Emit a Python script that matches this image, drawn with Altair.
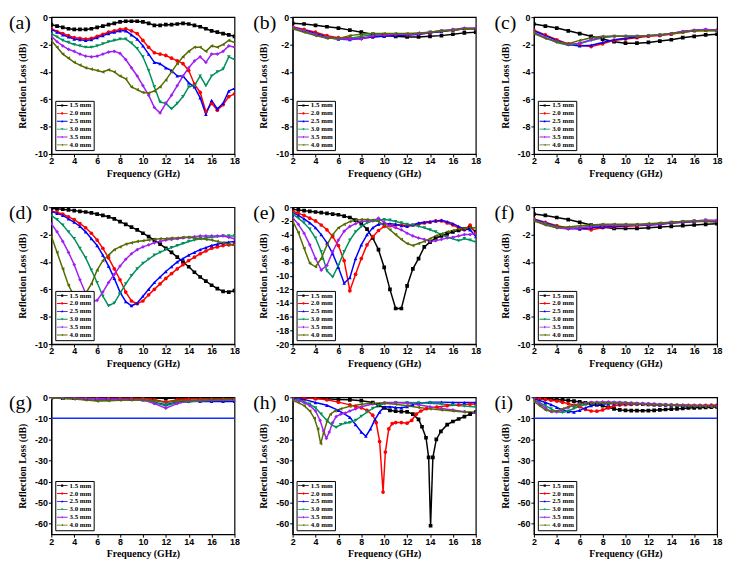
import altair as alt
import pandas as pd

SERIES = ["1.5 mm", "2.0 mm", "2.5 mm", "3.0 mm", "3.5 mm", "4.0 mm"]
COLORS = ["#000000", "#ff0000", "#0000ff", "#00915a", "#a020f0", "#556b00"]
SHAPES = ["square", "circle", "triangle-up", "triangle-down", "diamond", "triangle-left"]
BAR = "M-1,-0.08H1V0.08H-1Z "
LEGEND_SYMBOLS = [
    BAR + "M-0.2,-0.2H0.2V0.2H-0.2Z",
    BAR + "M0.21,0A0.21,0.21,0,1,1,-0.21,0A0.21,0.21,0,1,1,0.21,0Z",
    BAR + "M0,-0.24L0.22,0.16H-0.22Z",
    BAR + "M0,0.24L-0.22,-0.16H0.22Z",
    BAR + "M0,-0.24L0.2,0L0,0.24L-0.2,0Z",
    BAR + "M-0.24,0L0.16,-0.22V0.22Z",
]
XTICKS = [2, 4, 6, 8, 10, 12, 14, 16, 18]
Y10 = [0, -2, -4, -6, -8, -10]
Y20 = [0, -2, -4, -6, -8, -10, -12, -14, -16, -18, -20]
Y60 = [0, -10, -20, -30, -40, -50, -60]
REF_DB = -10

F05 = [2, 2.5, 3, 3.5, 4, 4.5, 5, 5.5, 6, 6.5, 7, 7.5, 8, 8.5, 9, 9.5, 10,
       10.5, 11, 11.5, 12, 12.5, 13, 13.5, 14, 14.5, 15, 15.5, 16, 16.5, 17, 17.5, 18]
F1 = [2, 3, 4, 5, 6, 7, 8, 9, 10, 11, 12, 13, 14, 15, 16, 17, 18]

# ---- panel (a) ----
a15 = [-0.55, -0.65, -0.75, -0.85, -0.9, -0.9, -0.9, -0.85, -0.75, -0.65, -0.55, -0.45, -0.35, -0.3, -0.3, -0.3,
       -0.35, -0.45, -0.6, -0.6, -0.55, -0.55, -0.5, -0.45, -0.5, -0.6, -0.7, -0.85, -1.0, -1.1, -1.2, -1.3, -1.4]
a20 = [-0.85, -1.05, -1.2, -1.35, -1.5, -1.55, -1.6, -1.55, -1.4, -1.25, -1.1, -1.0, -0.9, -0.85, -1.0, -1.2,
       -1.7, -2.2, -2.6, -2.7, -2.8, -3.0, -3.2, -3.4, -3.9, -4.9, -5.5, -6.9, -6.3, -6.8, -6.4, -5.8, -5.6]
a25 = [-0.9, -1.1, -1.3, -1.45, -1.6, -1.65, -1.7, -1.65, -1.5, -1.35, -1.2, -1.1, -1.0, -1.0, -1.3, -1.6,
       -2.1, -2.7, -3.3, -3.4, -3.7, -3.9, -4.3, -4.3, -4.8, -5.1, -5.9, -7.1, -6.1, -6.7, -6.3, -5.4, -5.2]
a30 = [-1.2, -1.45, -1.7, -1.85, -2.0, -2.1, -2.2, -2.2, -2.1, -1.95, -1.8, -1.7, -1.6, -1.6, -1.9, -2.3,
       -2.9, -3.9, -5.1, -6.2, -6.3, -6.7, -6.3, -5.8, -5.1, -5.0, -4.3, -5.0, -4.3, -4.0, -3.8, -2.9, -3.1]
a35 = [-1.4, -1.8, -2.1, -2.35, -2.5, -2.7, -2.85, -2.9, -2.85, -2.7, -2.55, -2.5, -2.65, -3.1, -3.7, -4.3,
       -5.0, -5.7, -6.6, -7.0, -6.3, -5.7, -5.0, -4.3, -3.7, -3.2, -2.9, -3.3, -2.7, -2.7, -2.5, -2.1, -2.2]
a40 = [-1.7, -2.2, -2.7, -3.0, -3.3, -3.5, -3.7, -3.8, -3.9, -4.0, -3.85, -4.0, -4.3, -4.5, -5.1, -5.3,
       -5.5, -5.55, -5.4, -5.1, -4.6, -4.0, -3.4, -2.9, -2.5, -2.2, -2.2, -2.5, -2.1, -2.2, -2.0, -1.7, -1.85]

# ---- panel (b) ----
b15 = [-0.45, -0.5, -0.6, -0.7, -0.8, -0.95, -1.1, -1.25, -1.35, -1.4, -1.45, -1.45, -1.4, -1.35, -1.25, -1.15, -1.1]
b20 = [-0.7, -0.9, -1.1, -1.35, -1.5, -1.5, -1.55, -1.45, -1.35, -1.3, -1.3, -1.25, -1.15, -1.05, -0.95, -0.85, -0.85]
b25 = [-0.75, -0.95, -1.2, -1.45, -1.6, -1.65, -1.55, -1.45, -1.4, -1.35, -1.3, -1.25, -1.15, -1.05, -0.95, -0.85, -0.85]
b30 = [-0.8, -1.0, -1.3, -1.5, -1.6, -1.55, -1.4, -1.3, -1.25, -1.25, -1.25, -1.2, -1.1, -1.0, -0.95, -0.85, -0.85]
b35 = [-0.75, -1.0, -1.3, -1.5, -1.6, -1.6, -1.6, -1.35, -1.3, -1.25, -1.25, -1.2, -1.1, -1.0, -0.9, -0.8, -0.8]
b40 = [-0.85, -1.1, -1.35, -1.55, -1.55, -1.35, -1.25, -1.2, -1.2, -1.2, -1.2, -1.15, -1.1, -1.0, -0.95, -0.85, -0.85]

# ---- panel (c) ----
c15 = [-0.5, -0.65, -0.8, -1.0, -1.2, -1.4, -1.6, -1.8, -1.9, -1.9, -1.85, -1.75, -1.65, -1.5, -1.4, -1.3, -1.25]
c20 = [-0.95, -1.3, -1.65, -1.95, -2.05, -2.15, -1.95, -1.7, -1.6, -1.5, -1.4, -1.35, -1.25, -1.1, -1.0, -0.95, -0.95]
c25 = [-1.0, -1.35, -1.7, -2.0, -2.1, -2.05, -1.85, -1.65, -1.55, -1.45, -1.35, -1.3, -1.2, -1.05, -0.95, -0.9, -0.95]
c30 = [-1.1, -1.5, -1.85, -2.05, -1.95, -1.7, -1.5, -1.4, -1.4, -1.4, -1.35, -1.3, -1.2, -1.1, -1.0, -0.95, -1.0]
c35 = [-1.15, -1.5, -1.8, -2.0, -1.9, -1.65, -1.45, -1.4, -1.4, -1.4, -1.35, -1.3, -1.2, -1.05, -0.95, -0.9, -0.95]
c40 = [-1.2, -1.55, -1.8, -1.95, -1.7, -1.5, -1.4, -1.4, -1.4, -1.4, -1.35, -1.3, -1.2, -1.1, -1.0, -1.0, -1.0]

# ---- panel (d) ----
d15 = [-0.1, -0.12, -0.15, -0.2, -0.25, -0.3, -0.35, -0.42, -0.5, -0.6, -0.7, -0.85, -1.05, -1.25, -1.45, -1.65,
       -1.9, -2.15, -2.4, -2.7, -3.0, -3.3, -3.65, -4.0, -4.35, -4.75, -5.1, -5.4, -5.7, -5.95, -6.15, -6.2, -6.1]
d20 = [-0.3, -0.38, -0.5, -0.7, -0.9, -1.2, -1.5, -1.9, -2.4, -3.0, -3.7, -4.5, -5.3, -6.2, -6.85, -7.05,
       -6.85, -6.4, -6.0, -5.6, -5.2, -4.85, -4.5, -4.2, -3.9, -3.65, -3.4, -3.2, -3.0, -2.9, -2.8, -2.75, -2.7]
d25 = [-0.3, -0.45, -0.6, -0.85, -1.1, -1.4, -1.8, -2.3, -2.8, -3.5, -4.3, -5.2, -6.2, -6.9, -7.2, -7.0,
       -6.5, -6.0, -5.5, -5.1, -4.7, -4.35, -4.0, -3.75, -3.5, -3.3, -3.1, -2.95, -2.8, -2.7, -2.6, -2.55, -2.5]
d30 = [-0.6, -0.9, -1.3, -1.8, -2.3, -3.0, -3.7, -4.6, -5.5, -6.5, -7.2, -7.0, -6.3, -5.6, -5.0, -4.5,
       -4.1, -3.8, -3.5, -3.3, -3.1, -2.95, -2.8, -2.65, -2.5, -2.4, -2.3, -2.25, -2.2, -2.15, -2.1, -2.1, -2.1]
d35 = [-1.2, -1.8, -2.5, -3.3, -4.2, -5.3, -6.3, -6.9, -6.8, -6.2, -5.5, -4.9, -4.3, -3.8, -3.4, -3.1,
       -2.9, -2.75, -2.6, -2.5, -2.4, -2.35, -2.3, -2.25, -2.2, -2.15, -2.1, -2.1, -2.1, -2.1, -2.1, -2.2, -2.3]
d40 = [-2.1, -3.3, -4.5, -5.7, -6.5, -6.8, -6.3, -5.6, -4.6, -3.9, -3.5, -3.1, -2.9, -2.7, -2.6, -2.5,
       -2.45, -2.4, -2.35, -2.3, -2.3, -2.25, -2.25, -2.2, -2.2, -2.25, -2.3, -2.35, -2.4, -2.5, -2.6, -2.7, -2.8]

# ---- panel (e) ----
e15 = [-0.3, -0.4, -0.5, -0.6, -0.7, -0.8, -0.9, -1.0, -1.1, -1.3, -1.5, -1.9, -2.4, -3.2, -4.5, -6.2,
       -8.8, -12.0, -14.8, -14.8, -11.5, -9.0, -7.5, -5.8, -5.1, -4.5, -4.2, -3.9, -3.6, -3.4, -3.2, -2.9, -3.6]
e20 = [-0.6, -0.9, -1.2, -1.6, -2.0, -2.6, -3.3, -4.3, -5.6, -7.8, -12.2, -9.8, -7.5, -5.5, -4.3, -3.4,
       -2.8, -2.7, -2.6, -2.6, -2.7, -2.6, -2.5, -2.3, -2.2, -2.0, -2.0, -2.3, -2.6, -3.0, -3.3, -2.6, -3.8]
e25 = [-0.8, -1.2, -1.7, -2.3, -3.0, -4.0, -5.2, -6.8, -8.8, -11.1, -10.3, -7.5, -5.5, -4.0, -3.0, -2.5,
       -2.4, -2.4, -2.5, -2.7, -2.8, -2.6, -2.3, -2.2, -2.1, -2.0, -1.9, -2.1, -2.4, -2.8, -3.2, -3.3, -4.3]
e30 = [-1.0, -1.6, -2.3, -3.2, -4.5, -6.5, -9.3, -10.2, -8.5, -6.5, -4.8, -3.6, -2.8, -2.3, -2.0, -1.9,
       -1.8, -1.9, -2.1, -2.3, -2.5, -2.6, -2.8, -3.0, -3.3, -3.6, -4.0, -4.4, -4.6, -4.9, -4.6, -4.8, -5.1]
e35 = [-1.5, -2.5, -3.8, -5.5, -7.5, -9.2, -8.5, -6.5, -4.8, -3.5, -2.8, -2.4, -2.1, -2.0, -2.0, -1.6,
       -2.2, -2.7, -3.0, -3.3, -3.8, -4.2, -4.5, -4.7, -5.0, -4.9, -4.7, -4.5, -4.4, -4.2, -4.0, -4.0, -3.8]
e40 = [-2.0, -3.7, -6.0, -8.2, -8.7, -7.5, -5.5, -4.0, -3.0, -2.5, -2.1, -1.9, -1.8, -1.8, -1.9, -2.1,
       -2.6, -3.3, -4.0, -4.7, -5.3, -5.6, -5.3, -5.0, -4.6, -4.2, -3.9, -3.6, -3.4, -3.2, -3.1, -3.0, -3.0]

# ---- panel (f) ----
f15 = [-0.5, -0.6, -0.75, -0.9, -1.1, -1.3, -1.45, -1.55, -1.55, -1.55, -1.5, -1.45, -1.4, -1.35, -1.3, -1.25, -1.2]
f20 = [-0.85, -1.1, -1.35, -1.5, -1.55, -1.65, -1.5, -1.45, -1.4, -1.35, -1.3, -1.25, -1.15, -1.1, -1.05, -1.0, -1.0]
f25 = [-0.9, -1.15, -1.4, -1.55, -1.6, -1.5, -1.45, -1.4, -1.35, -1.3, -1.3, -1.25, -1.15, -1.1, -1.05, -1.0, -1.0]
f30 = [-0.95, -1.2, -1.45, -1.55, -1.5, -1.4, -1.3, -1.3, -1.3, -1.3, -1.25, -1.2, -1.1, -1.05, -1.0, -0.95, -1.0]
f35 = [-0.95, -1.25, -1.5, -1.6, -1.5, -1.4, -1.35, -1.3, -1.3, -1.3, -1.25, -1.2, -1.1, -1.05, -1.0, -0.95, -0.95]
f40 = [-1.0, -1.3, -1.5, -1.45, -1.35, -1.3, -1.25, -1.25, -1.25, -1.25, -1.2, -1.15, -1.1, -1.05, -1.05, -1.05, -1.1]

# ---- panel (g) ----
g15 = [-0.3, -0.3, -0.3, -0.3, -0.3, -0.3, -0.3, -0.3, -0.3, -0.4, -0.6, -0.4, -0.3, -0.3, -0.3, -0.3, -0.3]
g20 = [-0.3, -0.3, -0.3, -0.4, -0.5, -0.5, -0.5, -0.5, -0.6, -1.2, -2.2, -1.2, -0.8, -0.8, -0.8, -0.8, -0.8]
g25 = [-0.4, -0.4, -0.5, -0.6, -0.8, -0.9, -0.9, -1.0, -1.2, -2.5, -3.5, -2.2, -1.8, -2.0, -2.0, -2.0, -2.0]
g30 = [-0.4, -0.6, -0.8, -1.1, -1.5, -1.5, -1.3, -1.3, -1.3, -2.5, -4.0, -2.5, -2.3, -1.8, -1.5, -1.4, -1.3]
g35 = [-0.3, -0.4, -0.5, -0.6, -0.7, -0.8, -0.9, -1.0, -1.2, -3.0, -5.2, -3.0, -1.8, -1.5, -1.3, -1.2, -1.2]
g40 = [-0.3, -0.5, -0.8, -1.3, -1.8, -1.6, -1.4, -1.3, -1.2, -1.6, -2.5, -1.8, -1.5, -1.3, -1.2, -1.1, -1.0]

# ---- panel (h) ----
h15_f = [2, 3, 4, 5, 6, 7, 8, 9, 9.5, 10, 10.5, 11, 11.5, 12, 12.5, 13, 13.3, 13.65, 13.88, 14.05, 14.25,
         14.55, 14.95, 15.5, 16, 16.5, 17, 17.5, 18]
h15 = [-0.3, -0.4, -0.5, -0.7, -1.0, -1.2, -1.6, -2.5, -3.8, -5.0, -6.2, -6.6, -6.8, -6.9, -8.0, -10.5, -14.0,
       -19.2, -28.5, -61.0, -28.5, -20.0, -16.2, -13.0, -11.5, -10.3, -9.2, -8.0, -7.0]
h20_f = [2, 3, 4, 5, 6, 7, 7.5, 8, 8.5, 9, 9.3, 9.6, 9.9, 10.1, 10.4, 10.7, 11, 11.5, 12, 12.4, 12.8, 13.2,
         13.7, 14.6, 15.5, 16.5, 17.5, 18]
h20 = [-0.3, -0.4, -0.6, -1.2, -2.3, -3.6, -4.3, -5.0, -6.2, -8.5, -12.0, -21.0, -45.0, -26.0, -15.0, -12.5,
       -12.0, -12.0, -12.3, -11.0, -8.0, -6.5, -5.4, -4.6, -4.0, -3.6, -3.3, -3.2]
h25_f = [2, 3, 4, 5, 6, 7, 7.5, 8, 8.4, 8.8, 9.2, 9.6, 10, 10.5, 11, 11.5, 12, 12.5, 13, 14, 15, 16, 17, 18]
h25 = [-0.5, -1.0, -2.5, -3.8, -6.2, -9.5, -13.0, -16.5, -18.5, -15.0, -10.5, -7.0, -4.6, -4.5, -4.8, -5.0,
       -4.5, -3.5, -2.8, -2.3, -2.3, -2.5, -2.5, -2.5]
h30_f = [2, 2.5, 3, 3.5, 4, 4.5, 5, 5.4, 5.8, 6.2, 6.6, 7, 7.5, 8, 8.5, 9, 9.5, 10, 11, 12, 13, 14, 15, 16, 17, 18]
h30 = [-0.8, -1.3, -2.0, -3.2, -5.0, -8.0, -11.0, -13.0, -14.3, -13.0, -12.3, -12.0, -11.0, -9.0, -7.0, -5.3,
       -4.0, -3.0, -2.5, -2.5, -2.6, -2.8, -3.2, -3.7, -4.2, -4.6]
h35_f = [2, 2.5, 3, 3.5, 4, 4.4, 4.7, 4.95, 5.2, 5.5, 5.8, 6.2, 6.6, 7, 7.5, 8, 9, 10, 11, 12, 13, 14, 15, 16, 17, 18]
h35 = [-1.0, -1.6, -2.5, -4.0, -6.5, -11.0, -16.0, -19.5, -16.5, -12.0, -9.2, -8.0, -7.5, -6.5, -5.5, -4.5,
       -3.2, -2.5, -2.5, -2.8, -3.5, -4.5, -5.3, -6.0, -6.8, -7.5]
h40_f = [2, 2.5, 3, 3.5, 3.9, 4.2, 4.45, 4.7, 5, 5.3, 5.7, 6.2, 7, 8, 9, 10, 11, 12, 13, 14, 15, 16, 17, 18]
h40 = [-1.5, -2.5, -4.0, -6.5, -10.0, -15.0, -22.0, -17.0, -11.5, -8.0, -6.5, -5.5, -4.3, -3.3, -2.8, -2.8,
       -3.3, -4.0, -4.8, -5.5, -6.0, -6.5, -7.0, -7.0]

# ---- panel (i) ----
i15 = [-0.3, -0.45, -0.6, -0.8, -1.0, -1.25, -1.5, -1.8, -2.2, -2.6, -3.0, -3.5, -4.0, -4.8, -5.5, -6.0,
       -6.2, -6.3, -6.3, -6.4, -6.3, -6.2, -6.0, -5.8, -5.6, -5.5, -5.3, -5.1, -5.0, -4.9, -4.8, -4.7, -4.6]
i20 = [-0.5, -0.7, -1.0, -1.4, -1.8, -2.4, -3.0, -3.7, -4.5, -5.8, -6.5, -6.6, -6.0, -5.0, -4.0, -3.7,
       -3.5, -3.4, -3.3, -3.3, -3.4, -3.5, -3.6, -3.7, -3.8, -3.8, -3.8, -3.8, -3.8, -3.8, -3.8, -3.75, -3.7]
i25 = [-0.8, -1.5, -2.5, -3.5, -4.8, -6.0, -6.8, -7.0, -6.2, -5.0, -4.0, -3.6, -3.2, -3.1, -3.0, -3.0,
       -3.0, -3.1, -3.2, -3.35, -3.5, -3.6, -3.7, -3.75, -3.8, -3.9, -4.0, -4.0, -4.0, -4.0, -4.0, -4.0, -4.0]
i30 = [-1.2, -2.5, -4.0, -5.5, -6.8, -7.2, -6.5, -5.3, -4.3, -3.5, -3.0, -2.8, -2.6, -2.6, -2.6, -2.7,
       -2.8, -2.9, -3.0, -3.15, -3.3, -3.4, -3.5, -3.6, -3.7, -3.8, -3.9, -4.0, -4.1, -4.2, -4.3, -4.4, -4.5]
i35 = [-1.5, -3.0, -5.0, -6.8, -7.0, -6.0, -4.8, -3.8, -3.0, -2.7, -2.4, -2.3, -2.2, -2.2, -2.3, -2.4,
       -2.5, -2.65, -2.8, -2.9, -3.0, -3.15, -3.3, -3.4, -3.5, -3.6, -3.7, -3.8, -3.9, -4.0, -4.1, -4.2, -4.3]
i40 = [-2.0, -4.0, -6.0, -6.8, -6.5, -5.5, -4.5, -3.8, -3.3, -3.1, -2.9, -2.85, -2.8, -2.85, -2.9, -2.95,
       -3.0, -3.1, -3.2, -3.3, -3.4, -3.5, -3.6, -3.7, -3.8, -3.9, -4.0, -4.1, -4.2, -4.25, -4.3, -4.4, -4.5]

LEG = alt.Legend(
    title=None, orient="bottom-left", offset=4, padding=1.5, rowPadding=0,
    symbolSize=121, clipHeight=6.5, symbolStrokeWidth=0, symbolOpacity=1,
    labelFont="Liberation Serif", labelFontWeight="bold", labelFontSize=7,
    labelOffset=2, labelColor="black", strokeColor="black", fillColor="white",
)


def panel(tag, fs_list, ys_list, ymin, yticks, ref=None, tagx=-40):
    rows = []
    for name, fs, ys in zip(SERIES, fs_list, ys_list):
        assert len(fs) == len(ys), (tag, name, len(fs), len(ys))
        rows += [{"f": f, "rl": v, "s": name} for f, v in zip(fs, ys)]
    df = pd.DataFrame(rows)
    x = alt.X("f:Q", scale=alt.Scale(domain=[2, 18], nice=False, zero=False),
              axis=alt.Axis(values=XTICKS, title="Frequency (GHz)", labelExpr="'' + datum.value"))
    y = alt.Y("rl:Q", scale=alt.Scale(domain=[ymin, 0], nice=False, zero=False),
              axis=alt.Axis(values=yticks, title="Reflection Loss (dB)", labelExpr="'' + datum.value"))

    def col(leg):
        return alt.Color("s:N", scale=alt.Scale(domain=SERIES, range=COLORS), legend=leg)

    base = alt.Chart(df).encode(x=x, y=y)
    lines = base.mark_line(strokeWidth=1.5, clip=True).encode(color=col(None))
    pts = base.mark_point(filled=True, size=14, opacity=1, clip=True).encode(
        color=col(None),
        shape=alt.Shape("s:N", scale=alt.Scale(domain=SERIES, range=SHAPES), legend=None),
    )
    leg = base.transform_filter("false").mark_point(filled=True, opacity=1).encode(
        color=col(LEG),
        shape=alt.Shape("s:N", scale=alt.Scale(domain=SERIES, range=LEGEND_SYMBOLS), legend=LEG),
    )
    layers = [lines, pts]
    if ref is not None:
        layers.append(
            alt.Chart(pd.DataFrame({"rl": [ref]})).mark_rule(color="#1030ff", strokeWidth=1.5).encode(y=y)
        )
    tagc = alt.Chart(pd.DataFrame({"t": [tag]})).mark_text(
        font="Liberation Serif", fontSize=20, align="left", baseline="top", color="black"
    ).encode(text="t:N", x=alt.value(tagx), y=alt.value(-4))
    layers += [tagc, leg]
    return alt.layer(*layers).resolve_scale(color="independent", shape="independent").properties(
        width=186, height=139
    )


panels = [
    panel("(a)", [F05] * 6, [a15, a20, a25, a30, a35, a40], -10, Y10, tagx=-43),
    panel("(b)", [F1] * 6, [b15, b20, b25, b30, b35, b40], -10, Y10),
    panel("(c)", [F1] * 6, [c15, c20, c25, c30, c35, c40], -10, Y10),
    panel("(d)", [F05] * 6, [d15, d20, d25, d30, d35, d40], -10, Y10, tagx=-43),
    panel("(e)", [F05] * 6, [e15, e20, e25, e30, e35, e40], -20, Y20),
    panel("(f)", [F1] * 6, [f15, f20, f25, f30, f35, f40], -10, Y10),
    panel("(g)", [F1] * 6, [g15, g20, g25, g30, g35, g40], -65, Y60, ref=REF_DB, tagx=-43),
    panel("(h)", [h15_f, h20_f, h25_f, h30_f, h35_f, h40_f], [h15, h20, h25, h30, h35, h40], -65, Y60),
    panel("(i)", [F05] * 6, [i15, i20, i25, i30, i35, i40], -65, Y60, ref=REF_DB),
]

chart = (
    alt.concat(*panels, columns=3, spacing={"row": 54, "column": 59}, bounds="flush")
    .resolve_scale(color="independent", shape="independent")
    .properties(padding=0, background="white")
    .configure_view(stroke="black", strokeWidth=1.2)
    .configure_axis(
        domainColor="black", domainWidth=1.2, tickColor="black", tickWidth=1, tickSize=3,
        labelFont="Liberation Sans", labelFontWeight="bold", labelFontSize=9, labelColor="black",
        labelFlush=False, titleFont="Liberation Serif", titleFontWeight="bold", titleFontSize=10,
        titleColor="black", grid=False,
    )
    .configure_axisX(labelPadding=0, titlePadding=3)
    .configure_axisY(labelPadding=1, titlePadding=7)
    .configure_legend(strokeWidth=1)
)

chart.save("out.html", embed_options={"renderer": "svg", "actions": False})
